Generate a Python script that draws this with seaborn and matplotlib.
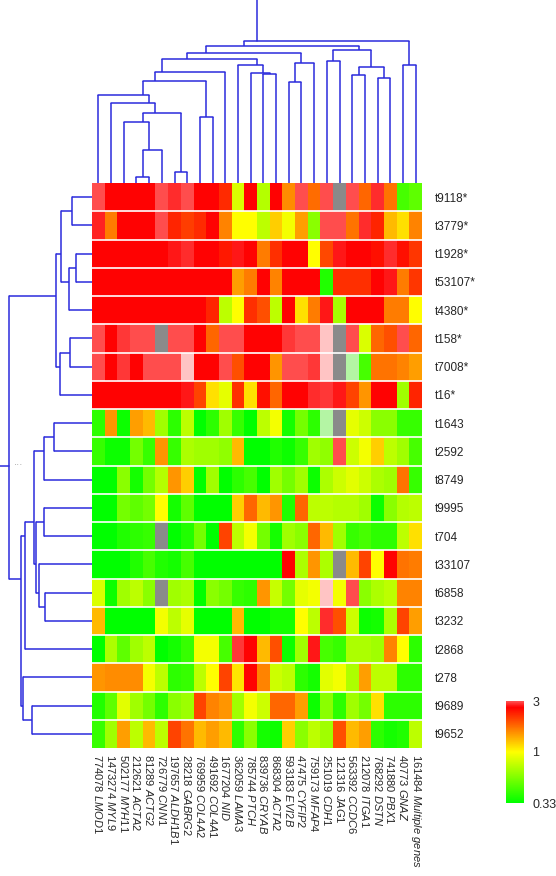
import numpy as np
import pandas as pd
import matplotlib
matplotlib.use("Agg")
import matplotlib.pyplot as plt
import seaborn as sns
from matplotlib.colors import LinearSegmentedColormap

sns.set_style("white")
plt.rcParams['font.family'] = ['Liberation Sans', 'DejaVu Sans']
plt.rcParams['mathtext.fontset'] = 'custom'
plt.rcParams['mathtext.rm'] = 'Liberation Sans'
plt.rcParams['mathtext.it'] = 'Liberation Sans:italic'

gene_ids = ["774078", "1473274", "502177", "212621", "81289", "726779", "197657",
            "28218", "769959", "491692", "1677204", "362059", "785744", "839736",
            "868304", "593183", "47475", "759173", "251019", "121316", "563392",
            "212078", "768292", "741880", "40773", "161484"]
gene_names = ["LMOD1", "MYL9", "MYH11", "ACTA2", "ACTG2", "CNN1", "ALDH1B1",
              "GABRG2", "COL4A2", "COL4A1", "NID", "LAMA3", "PTCH", "CRYAB",
              "ACTA2", "EVI2B", "CYFIP2", "MFAP4", "CDH1", "JAG1", "CCDC6",
              "ITGA1", "DSTN", "PBX1", "GNAZ", "Multiple genes"]
samples = ["t9118*", "t3779*", "t1928*", "t53107*", "t4380*", "t158*", "t7008*",
           "t16*", "t1643", "t2592", "t8749", "t9995", "t704", "t33107", "t6858",
           "t3232", "t2868", "t278", "t9689", "t9652"]

nan = np.nan
# fold change per sample (rows) and gene (columns); > 3.03 and < 0.33 drawn pale
fold = [
    [3.0, 2.65, 2.65, 2.65, 2.65, 3.0, 2.85, 3.0, 2.65, 2.65, 2.25, 0.85, 2.65, 0.72, 2.65, 1.55, 3.0, 1.75, 3.0, nan, 3.0, 1.8, 2.85, 1.7, 0.45, 0.5],
    [2.8, 1.65, 2.65, 2.65, 2.65, 3.0, 2.3, 2.1, 2.25, 2.65, 1.6, 1.0, 1.0, 0.75, 1.2, 0.95, 1.45, 0.6, 3.0, 3.0, 1.7, 2.85, 2.3, 1.3, 1.12, 1.6],
    [2.65, 2.65, 2.65, 2.65, 2.65, 2.65, 2.75, 2.85, 2.65, 2.65, 2.4, 2.75, 2.65, 1.65, 2.2, 2.65, 2.65, 1.0, 2.0, 2.75, 2.65, 2.65, 2.5, 2.85, 2.5, 2.15],
    [2.65, 2.65, 2.65, 2.65, 2.65, 2.65, 2.65, 2.65, 2.65, 2.65, 2.65, 1.45, 1.65, 2.65, 1.6, 2.65, 2.65, 2.65, 0.38, 2.2, 2.2, 2.2, 2.65, 2.75, 1.65, 2.15],
    [2.65, 2.65, 2.65, 2.65, 2.65, 2.65, 2.65, 2.65, 2.65, 2.3, 0.75, 1.0, 2.2, 1.95, 0.75, 2.65, 1.12, 1.65, 2.75, 0.68, 2.65, 2.65, 2.65, 1.65, 1.65, 1.0],
    [3.0, 2.65, 2.9, 3.0, 3.0, nan, 3.0, 3.0, 2.65, 1.8, 3.0, 3.0, 2.65, 2.65, 2.65, 2.9, 3.0, 3.0, 5, nan, 3.0, 0.85, 1.8, 1.95, 3.0, 1.8],
    [3.0, 2.65, 2.9, 2.65, 3.0, 3.0, 3.0, 5, 2.65, 2.65, 3.0, 1.95, 2.65, 2.65, 1.5, 3.0, 3.0, 2.9, 5, nan, 0.2, 0.45, 1.7, 1.7, 1.6, 1.45],
    [2.65, 2.65, 2.65, 2.65, 2.65, 2.65, 2.65, 2.75, 2.05, 1.12, 0.9, 2.2, 1.12, 2.5, 1.8, 2.65, 2.65, 2.85, 2.9, 2.75, 2.05, 1.5, 2.65, 2.65, 0.66, 2.3],
    [0.4, 1.5, 0.35, 1.45, 1.3, 0.66, 0.4, 0.75, 0.33, 0.4, 0.66, 0.42, 0.33, 0.75, 0.95, 0.36, 0.55, 0.4, 0.2, nan, 0.9, 0.8, 0.6, 0.6, 0.42, 0.42],
    [0.42, 0.35, 0.35, 0.55, 0.42, 1.5, 0.42, 0.7, 0.66, 0.66, 0.62, 1.3, 0.33, 0.33, 0.38, 0.35, 0.42, 0.66, 0.62, 3.0, 0.8, 0.95, 1.2, 0.75, 0.66, 0.45],
    [0.33, 0.33, 0.6, 0.36, 0.55, 0.72, 1.5, 1.2, 0.33, 0.66, 0.33, 0.4, 0.45, 0.33, 0.66, 0.55, 0.66, 0.35, 0.7, 0.8, 0.88, 0.8, 0.7, 0.66, 1.7, 0.42],
    [0.33, 0.33, 0.55, 0.5, 0.55, 1.0, 0.36, 0.5, 0.33, 0.33, 0.33, 1.2, 1.8, 1.3, 1.5, 0.38, 1.8, 0.75, 0.75, 0.72, 0.72, 0.66, 0.35, 0.6, 0.72, 0.75],
    [0.33, 0.33, 0.38, 0.4, 0.42, nan, 0.33, 0.38, 0.55, 0.33, 2.05, 0.75, 0.95, 0.55, 0.36, 0.66, 0.6, 1.8, 1.3, 0.66, 0.42, 0.45, 0.4, 0.4, 0.75, 1.12],
    [0.33, 0.33, 0.33, 0.38, 0.45, 0.38, 0.36, 0.45, 0.33, 0.33, 0.33, 0.33, 0.33, 0.33, 0.33, 2.65, 0.7, 1.5, 0.7, nan, 1.3, 2.05, 1.0, 2.65, 1.7, 1.65],
    [0.85, 0.35, 0.66, 0.75, 0.6, nan, 0.66, 0.7, 0.33, 0.6, 0.55, 0.42, 0.4, 1.5, 0.78, 0.55, 0.9, 0.95, 4.0, 0.95, 3.0, 0.6, 0.7, 0.75, 1.6, 1.6],
    [1.3, 0.33, 0.33, 0.33, 0.33, 0.95, 0.75, 0.9, 0.33, 0.33, 0.33, 1.3, 0.33, 0.33, 0.36, 0.36, 1.0, 0.75, 2.85, 1.95, 0.8, 0.35, 0.36, 0.7, 2.05, 1.45],
    [0.33, 0.7, 0.5, 0.66, 0.75, 0.33, 0.36, 0.42, 0.95, 0.95, 0.45, 2.9, 2.65, 1.3, 1.95, 0.35, 0.66, 2.75, 0.45, 0.42, 0.7, 0.7, 0.66, 1.6, 1.0, 0.4],
    [1.5, 1.55, 1.55, 1.55, 0.95, 0.75, 0.4, 0.42, 0.75, 1.0, 2.05, 1.1, 2.65, 1.6, 0.8, 0.75, 0.4, 0.36, 0.88, 0.95, 0.7, 1.45, 0.75, 0.75, 0.4, 0.4],
    [0.38, 0.5, 0.88, 0.66, 0.55, 0.4, 0.6, 0.65, 2.05, 1.6, 1.5, 0.66, 0.95, 0.8, 1.8, 1.8, 1.45, 0.35, 0.6, 0.4, 0.66, 0.55, 1.12, 0.4, 0.4, 0.4],
    [0.42, 0.66, 1.45, 0.75, 1.3, 0.75, 2.05, 1.7, 1.3, 1.45, 1.3, 0.4, 0.6, 0.36, 0.35, 1.2, 0.6, 0.75, 0.66, 1.95, 1.3, 1.45, 0.4, 0.36, 0.38, 0.75],
]

# clustering trees: (left, right, merge height), leaves are column / row indices
A = (3, 4, 18); B = (A, 5, 98); C = (2, B, 184); D = (6, 7, 34)
E = (C, D, 209); F = (1, E, 239); G = (0, F, 265); H = (8, 9, 197)
I = (G, H, 308); J = (I, 10, 333); K = (13, 14, 328); L = (12, K, 332)
M = (11, L, 354); N = (J, M, 374); O = (15, 16, 303); P = (O, 17, 362)
Q = (N, P, 392); R = (18, 19, 366); S = (20, 21, 324); T = (22, 23, 315)
U = (S, T, 349); V = (R, U, 400); W = (Q, V, 413); X = (24, 25, 354)
col_tree = (W, X, 426)

r01 = (0, 1, 60); r23 = (2, 3, 47); r234 = (r23, 4, 70); r04 = (r01, r234, 92)
r56 = (5, 6, 65); r57 = (r56, 7, 95); r_top = (r04, r57, 107)
r89 = (8, 9, 115); r810 = (r89, 10, 142); r1112 = (11, 12, 142)
r1415 = (14, 15, 139); r1315 = (13, r1415, 157); r1115 = (r1112, r1315, 167)
r815 = (r810, r1115, 172); r816 = (r815, 16, 200)
r1819 = (18, 19, 180); r1719 = (17, r1819, 207); r_bot = (r816, r1719, 213)
row_tree = (r_top, r_bot, 247)

line_col = "#2b2bdc"


def leaf_list(node):
    if isinstance(node, int):
        return [node]
    return leaf_list(node[0]) + leaf_list(node[1])


def draw_tree(ax, node, top):
    # returns (position, height); parent stems sit on the mean leaf position
    if isinstance(node, int):
        return node + 0.5, 0
    pa, ha = draw_tree(ax, node[0], top)
    pb, hb = draw_tree(ax, node[1], top)
    h = node[2]
    for p, hh in [(pa, ha), (pb, hb)]:
        if top:
            ax.plot([p, p], [hh, h], color=line_col, lw=1.1, solid_capstyle="butt")
        else:
            ax.plot([hh, h], [p, p], color=line_col, lw=1.1, solid_capstyle="butt")
    if top:
        ax.plot([pa, pb], [h, h], color=line_col, lw=1.1)
    else:
        ax.plot([h, h], [pa, pb], color=line_col, lw=1.1)
    return np.mean(leaf_list(node)) + 0.5, h


W_PX, H_PX = 556, 876
fig = plt.figure(figsize=(W_PX / 100, H_PX / 100), dpi=100)


def px_axes(x0, y0, x1, y1):
    return fig.add_axes([x0 / W_PX, 1 - y1 / H_PX, (x1 - x0) / W_PX, (y1 - y0) / H_PX])


hm_l, hm_r, hm_t, hm_b = 92, 422, 183, 748
ax = px_axes(hm_l, hm_t, hm_r, hm_b)
ax_top = px_axes(hm_l, 0, hm_r, hm_t)
ax_left = px_axes(0, hm_t, hm_l, hm_b)
cax = px_axes(506, 701, 524, 803)

cmap = LinearSegmentedColormap.from_list(
    "gyr", [(0, "#00ff00"), (0.5, "#ffff00"), (0.94, "#ff0000"), (1.0, "#ff5252")])
cmap.set_over("#ffc4c4")
cmap.set_under("#b4f5a4")
cmap.set_bad("#8a8a8a")

labels = [f"{g} $\\mathit{{{n.replace(' ', '{\\ }')}}}$" for g, n in zip(gene_ids, gene_names)]
df = pd.DataFrame(np.log(np.array(fold, dtype=float)), index=samples, columns=labels)

lo, hi = np.log(0.33), np.log(3.03)
ax.set_facecolor("#8a8a8a")
sns.heatmap(df, ax=ax, cmap=cmap, vmin=lo, vmax=hi,
            cbar_ax=cax, cbar_kws={"ticks": [np.log(3), 0, lo]})
ax.hlines(np.arange(1, len(samples)), 0, len(gene_ids), color="white", lw=1.2)

ax.yaxis.tick_right()
ax.set_yticks(np.arange(len(samples)) + 0.5)
ax.set_yticklabels(samples, rotation=0, fontsize=8.5)
ax.set_xticks(np.arange(len(gene_ids)) + 0.5)
ax.set_xticklabels(labels, rotation=270, fontsize=8.0, va="top", ha="center")
ax.tick_params(axis="both", length=0)
ax.tick_params(axis="y", pad=9)
ax.tick_params(axis="x", pad=4)
ax.set_xlabel("")
ax.set_ylabel("")

cb = ax.collections[0].colorbar
cb.outline.set_visible(False)
cb.ax.set_yticklabels(["3", "1", "0.33"], fontsize=9)
cb.ax.tick_params(length=0, pad=6)

# top dendrogram
pos, h = draw_tree(ax_top, col_tree, True)
ax_top.plot([pos, pos], [h, 550], color=line_col, lw=1.1)
ax_top.set_xlim(0, len(gene_ids))
ax_top.set_ylim(0, 550)
ax_top.axis("off")

# left dendrogram
pos, h = draw_tree(ax_left, row_tree, False)
ax_left.plot([h, 275], [pos, pos], color=line_col, lw=1.1)
ax_left.text(h - 12, pos, "···", color="#999999", fontsize=7, ha="left", va="center")
ax_left.set_ylim(len(samples), 0)
ax_left.set_xlim(275, 0)
ax_left.axis("off")

fig.savefig("out.png", dpi=100)
